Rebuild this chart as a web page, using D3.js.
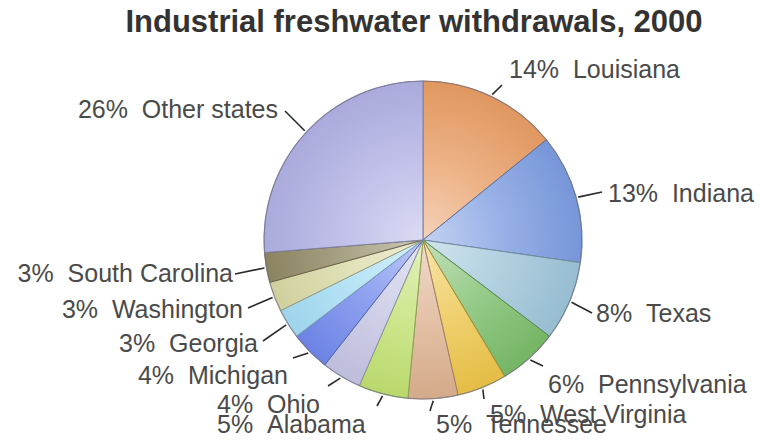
<!DOCTYPE html>
<html>
<head>
<meta charset="utf-8">
<script src="https://cdn.jsdelivr.net/npm/d3@7"></script>
<style>
  body { margin: 0; background: #fff; }
  text { font-family: "Liberation Sans", Arial, sans-serif; }
</style>
</head>
<body>
<div id="chart"></div>
<script>
// Share of U.S. industrial freshwater withdrawals by state, 2000 (percent)
var states = ["Louisiana", "Indiana", "Texas", "Pennsylvania", "West Virginia", "Tennessee",
              "Alabama", "Ohio", "Michigan", "Georgia", "Washington", "South Carolina", "Other states"];
var shares = [14, 13, 8, 6, 5, 5, 5, 4, 4, 3, 3, 3, 26];
var colors = ["#e89c64", "#7b9be0", "#9cc4d8", "#78bc68", "#ecc448", "#dcb08e",
              "#c0e070", "#c4c4e4", "#7088ec", "#a4dcf4", "#d8d8a4", "#908864", "#b0b0e4"];

var width = 760, height = 441;
var cx = 423, cy = 240, radius = 159;

// label layout: text anchor point and where the leader line ends
var labelPos = {
    "Louisiana":      { x: 509, y: 78,  anchor: "start", lx: 502, ly: 85 },
    "Indiana":        { x: 608, y: 202, anchor: "start", lx: 602, ly: 192 },
    "Texas":          { x: 596, y: 322, anchor: "start", lx: 592, ly: 313 },
    "Pennsylvania":   { x: 548, y: 393, anchor: "start", lx: 543, ly: 366 },
    "West Virginia":  { x: 490, y: 423, anchor: "start", lx: 484, ly: 399 },
    "Tennessee":      { x: 436, y: 433, anchor: "start", lx: 430, ly: 411 },
    "Alabama":        { x: 217, y: 433, anchor: "start", lx: 377, ly: 406 },
    "Ohio":           { x: 217, y: 413, anchor: "start", lx: 328, ly: 386 },
    "Michigan":       { x: 288, y: 384, anchor: "end",   lx: 293, ly: 358 },
    "Georgia":        { x: 258, y: 352, anchor: "end",   lx: 263, ly: 341 },
    "Washington":     { x: 243, y: 318, anchor: "end",   lx: 248, ly: 308 },
    "South Carolina": { x: 233, y: 282, anchor: "end",   lx: 235, ly: 274 },
    "Other states":   { x: 278, y: 118, anchor: "end",   lx: 285, ly: 111 }
};

var data = states.map((s, i) => ({ state: s, value: shares[i], color: colors[i] }));

var svg = d3.select("#chart").append("svg")
    .attr("width", width)
    .attr("height", height);

svg.append("text")
    .attr("x", 414)
    .attr("y", 32)
    .attr("text-anchor", "middle")
    .style("font-size", "31px")
    .style("font-weight", "bold")
    .style("fill", "#333")
    .text("Industrial freshwater withdrawals, 2000");

// radial shading, lighter near the centre and full colour at the rim
var defs = svg.append("defs");
data.forEach((d, i) => {
    var base = d3.color(d.color);
    var grad = defs.append("radialGradient")
        .attr("id", "grad" + i)
        .attr("gradientUnits", "userSpaceOnUse")
        .attr("cx", 0).attr("cy", 0).attr("r", radius)
        .attr("fx", 0).attr("fy", 0);
    grad.append("stop").attr("offset", "0%").attr("stop-color", d3.interpolateRgb(base, "#fff")(0.55));
    grad.append("stop").attr("offset", "50%").attr("stop-color", d3.interpolateRgb(base, "#fff")(0.22));
    grad.append("stop").attr("offset", "100%").attr("stop-color", base.darker(0.1).toString());
});

var pie = d3.pie().sort(null).value(d => d.value);
var arc = d3.arc().innerRadius(0).outerRadius(radius);
var arcs = pie(data);

var g = svg.append("g").attr("transform", `translate(${cx},${cy})`);

g.selectAll("path.slice")
    .data(arcs)
    .enter()
    .append("path")
        .attr("class", "slice")
        .attr("d", arc)
        .attr("fill", (d, i) => `url(#grad${i})`)
        .attr("stroke", d => d3.color(d.data.color).darker(0.9))
        .attr("stroke-width", 1);

g.append("circle")
    .attr("r", radius)
    .attr("fill", "none")
    .attr("stroke", "#7a7a90")
    .attr("stroke-opacity", 0.6)
    .attr("stroke-width", 1.2);

// leader lines
svg.selectAll("line.leader")
    .data(arcs)
    .enter()
    .append("line")
        .attr("class", "leader")
        .attr("x1", d => cx + Math.sin((d.startAngle + d.endAngle) / 2) * (radius + 2))
        .attr("y1", d => cy - Math.cos((d.startAngle + d.endAngle) / 2) * (radius + 2))
        .attr("x2", d => labelPos[d.data.state].lx)
        .attr("y2", d => labelPos[d.data.state].ly)
        .attr("stroke", "#2a2a2a")
        .attr("stroke-width", 1.6);

svg.selectAll("text.label")
    .data(arcs)
    .enter()
    .append("text")
        .attr("class", "label")
        .attr("x", d => labelPos[d.data.state].x)
        .attr("y", d => labelPos[d.data.state].y)
        .attr("text-anchor", d => labelPos[d.data.state].anchor)
        .style("font-size", "25px")
        .style("fill", "#4a4a4a")
        .text(d => d.data.value + "%\u00a0\u00a0" + d.data.state);
</script>
</body>
</html>
